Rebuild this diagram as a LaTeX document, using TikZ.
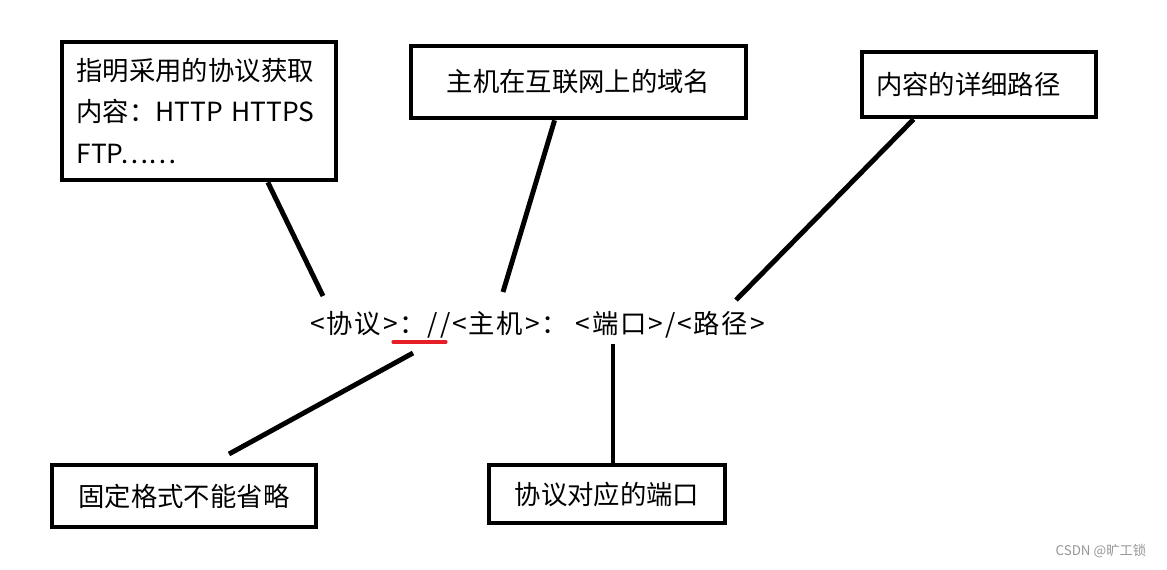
\documentclass[tikz,border=0pt]{standalone}
\usepackage{fontspec}
\usepackage{tikz}
\usepackage{xcolor}
\usetikzlibrary{positioning}
\newfontfamily\cjk{Noto Sans CJK SC}
\definecolor{mark-red}{RGB}{230,30,40}
\definecolor{mark-gray}{RGB}{150,150,150}

\begin{document}
\begin{tikzpicture}[
  x=0.02cm, y=-0.02cm,
  box/.style={draw, line width=2.6pt, inner sep=0pt, align=left, font=\cjk\fontsize{15}{23.5}\selectfont},
  conn/.style={line width=2.8pt},
]
  \useasboundingbox (0,0) rectangle (1167,569);
  \node[box, minimum width=5.48cm, minimum height=2.76cm, text width=4.9cm] (proto) at (199,111) {指明采用的协议获取\\内容：HTTP HTTPS\\FTP……};
  \node[box, minimum width=6.7cm, minimum height=1.44cm, align=center] (host) at (578.5,82) {主机在互联网上的域名};
  \node[box, minimum width=4.68cm, minimum height=1.3cm, text width=4.12cm] (path) at (979,84.5) {内容的详细路径};
  \node[box, minimum width=5.28cm, minimum height=1.24cm, align=center] (fixed) at (184,496) {固定格式不能省略};
  \node[box, minimum width=4.72cm, minimum height=1.16cm, align=center] (port) at (607,494) {协议对应的端口};

  \node[font=\cjk\fontsize{15}{18}\selectfont\addfontfeature{LetterSpace=7}, inner sep=0pt] (url) at (537.5,325) {<协议>：//<主机>： <端口>/<路径>};
  \node[font=\cjk\fontsize{7.6}{8}\selectfont, text=mark-gray, inner sep=0pt] (mark) at (1101,551) {CSDN @旷工锁};

  \coordinate (u1) at (323,296);
  \coordinate (u2) at (503,292);
  \coordinate (u3) at (736,300);
  \coordinate (u4) at (413,353);
  \coordinate (f4) at (229,454);
  \coordinate (u5) at (613,344);
  \coordinate (s1) at (393,342);
  \coordinate (s2) at (446,342);

  \draw[line width=1.8pt, mark-red, line cap=round] (s1) -- (s2);
  \draw[conn] (proto.-46) -- (u1);
  \draw[conn] (host.-122) -- (u2);
  \draw[conn] (path.-152) -- (u3);
  \draw[conn] (u4) -- (f4);
  \draw[conn] (u5) -- (u5 |- port.north);
\end{tikzpicture}
\end{document}
